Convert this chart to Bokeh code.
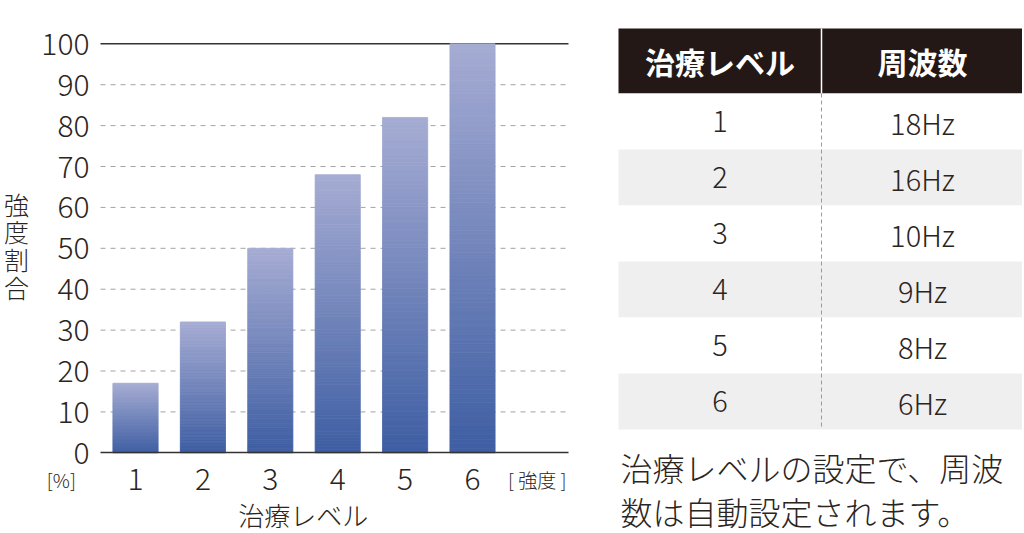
from bokeh.plotting import figure
from bokeh.layouts import row
from bokeh.models import ColumnDataSource, Range1d, FixedTicker, Label
from bokeh.embed import file_html
from bokeh.resources import INLINE

# data
levels = [1, 2, 3, 4, 5, 6]
strength = [17, 32, 50, 68, 82, 100]      # 強度割合 [%]
freq_labels = ["18Hz", "16Hz", "10Hz", "9Hz", "8Hz", "6Hz"]
y_ticks = [0, 10, 20, 30, 40, 50, 60, 70, 80, 90, 100]

FONT = "Noto Sans CJK JP"
LIGHT = "'Noto Sans CJK JP Light', 'Noto Sans CJK JP'"
TEXT = "#2b2522"
TOP_COLOR = (0xa6, 0xac, 0xd3)
BOT_COLOR = (0x3e, 0x5e, 0xa3)

X_LO, X_HI = 0.481, 7.424      # extent of the plotting area in level units
H = 533

# ---------- bar chart ----------
# the frame covers the whole figure so the outside texts are not clipped;
# the axes are pinned with fixed_location
chart = figure(width=600, height=H,
               x_range=Range1d(-1.003, 7.899), y_range=Range1d(-19.73, 110.59),
               output_backend="svg", toolbar_location=None,
               min_border=0, min_border_left=0, min_border_right=0,
               min_border_top=0, min_border_bottom=0)
chart.outline_line_color = None
chart.grid.visible = False

# grid lines
mid_ticks = y_ticks[1:-1]
chart.segment(x0=X_LO, x1=X_HI, y0=mid_ticks, y1=mid_ticks,
              line_color="#a3a3a3", line_width=1, line_dash="5 5")
chart.segment(x0=[X_LO], x1=[X_HI], y0=[y_ticks[-1]], y1=[y_ticks[-1]],
              line_color="#333333", line_width=1.5)

# each bar drawn as thin stacked strips so it fades from light (top) to dark (bottom)
n_strips = 90
strips = dict(left=[], right=[], bottom=[], top=[], color=[])
for lv, val in zip(levels, strength):
    h = val / n_strips
    for j in range(n_strips):
        t = (j + 0.5) / n_strips
        c = tuple(int(round(b + (a - b) * t)) for a, b in zip(TOP_COLOR, BOT_COLOR))
        strips["left"].append(lv - 0.335)
        strips["right"].append(lv + 0.335)
        strips["bottom"].append(j * h)
        strips["top"].append((j + 1) * h)
        strips["color"].append("#%02x%02x%02x" % c)
chart.quad(left="left", right="right", bottom="bottom", top="top",
           fill_color="color", line_color="color", line_width=0.8,
           source=ColumnDataSource(strips))

chart.yaxis.fixed_location = X_LO
chart.yaxis.bounds = (0, 100)
chart.yaxis.ticker = FixedTicker(ticks=y_ticks)
chart.yaxis.axis_line_color = None
chart.yaxis.major_tick_line_color = None
chart.yaxis.minor_tick_line_color = None
chart.yaxis.major_tick_out = 0
chart.yaxis.major_tick_in = 0
chart.yaxis.major_label_standoff = 11
chart.yaxis.major_label_text_font = LIGHT
chart.yaxis.major_label_text_font_size = "30px"
chart.yaxis.major_label_text_color = TEXT

chart.xaxis.fixed_location = 0
chart.xaxis.bounds = (X_LO, X_HI)
chart.xaxis.ticker = FixedTicker(ticks=levels)
chart.xaxis.axis_line_color = "#333333"
chart.xaxis.axis_line_width = 1.5
chart.xaxis.major_tick_line_color = None
chart.xaxis.minor_tick_line_color = None
chart.xaxis.major_tick_out = 0
chart.xaxis.major_tick_in = 0
chart.xaxis.major_label_standoff = 15
chart.xaxis.major_label_text_font = LIGHT
chart.xaxis.major_label_text_font_size = "30px"
chart.xaxis.major_label_text_color = TEXT


def chart_label(x, y, txt, size):
    chart.add_layout(Label(x=x, y=y, text=txt, text_font=LIGHT, text_font_size=size,
                           text_color=TEXT, text_align="center", text_baseline="middle"))


chart_label(-0.10, -6.6, "[%]", "19px")
chart_label(6.96, -6.6, "[ 強度 ]", "19px")
chart_label(3.49, -15.2, "治療レベル", "26px")
for i, ch in enumerate("強度割合"):
    chart_label(-0.766, 60.9 - i * 6.77, ch, "25px")

# ---------- frequency table ----------
tbl = figure(width=422, height=H, x_range=Range1d(0, 422), y_range=Range1d(H, 0),
             output_backend="svg", toolbar_location=None,
             min_border=0, min_border_left=0, min_border_right=0,
             min_border_top=0, min_border_bottom=0)
tbl.axis.visible = False
tbl.grid.visible = False
tbl.outline_line_color = None

tbl_left, tbl_split, tbl_right = 18, 221, 430
head_top, head_bot, row_h = 28, 93, 56
col1_x = (tbl_left + tbl_split) / 2
col2_x = 322

tbl.quad(left=[tbl_left], right=[tbl_right], top=[head_top], bottom=[head_bot],
         fill_color="#231815", line_color=None)
tbl.segment(x0=[tbl_split], x1=[tbl_split], y0=[head_top], y1=[head_bot],
            line_color="white", line_width=1.5)

row_top = [head_bot + i * row_h for i in range(len(levels))]
row_bot = [t + row_h for t in row_top]
row_fill = ["white" if i % 2 == 0 else "#efefef" for i in range(len(levels))]
tbl.quad(left=tbl_left, right=tbl_right, top=row_top, bottom=row_bot,
         fill_color=row_fill, line_color=None)
tbl.segment(x0=[tbl_split], x1=[tbl_split], y0=[head_bot], y1=[row_bot[-1]],
            line_color="#9a9a9a", line_width=1, line_dash="4 3")

for x, txt in [(col1_x, "治療レベル"), (col2_x, "周波数")]:
    tbl.add_layout(Label(x=x, y=(head_top + head_bot) / 2, text=txt, text_font=FONT,
                         text_font_size="30px", text_font_style="bold", text_color="white",
                         text_align="center", text_baseline="middle"))

for i, (lv, fq) in enumerate(zip(levels, freq_labels)):
    yc = row_top[i] + row_h / 2
    tbl.add_layout(Label(x=col1_x, y=yc, text=str(lv), text_font=LIGHT, text_font_size="29px",
                         text_color=TEXT, text_align="center", text_baseline="middle"))
    tbl.add_layout(Label(x=col2_x, y=yc, text=fq, text_font=LIGHT, text_font_size="29px",
                         text_color=TEXT, text_align="center", text_baseline="middle"))

note_lines = ["治療レベルの設定で、周波", "数は自動設定されます。"]
for i, line in enumerate(note_lines):
    tbl.add_layout(Label(x=20, y=466 + i * 44, text=line, text_font=LIGHT,
                         text_font_size="32px", text_color=TEXT,
                         text_align="left", text_baseline="middle"))

layout = row(chart, tbl)
open("out.html", "w").write(file_html(layout, INLINE))
